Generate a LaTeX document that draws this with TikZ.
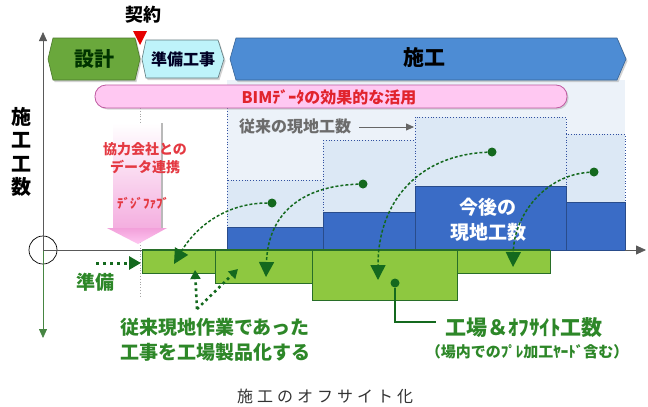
\documentclass[tikz,border=0pt]{standalone}
\usepackage{fontspec}
\setmainfont{Noto Sans CJK JP}
\usetikzlibrary{arrows.meta,shadows}
\definecolor{sekkei}{RGB}{106,168,60}
\definecolor{junbi}{RGB}{190,243,250}
\definecolor{sekou}{RGB}{77,140,212}
\definecolor{pinkfill}{RGB}{255,200,242}
\definecolor{pinkborder}{RGB}{190,90,160}
\definecolor{bimred}{RGB}{225,35,45}
\definecolor{palebg}{RGB}{236,242,249}
\definecolor{oldbox}{RGB}{220,232,245}
\definecolor{bordblue}{RGB}{50,80,160}
\definecolor{newblue}{RGB}{58,108,198}
\definecolor{barfill}{RGB}{142,200,64}
\definecolor{barline}{RGB}{40,110,40}
\definecolor{dgreen}{RGB}{20,105,30}
\definecolor{tgreen}{RGB}{45,135,40}
\definecolor{pinkarrow}{RGB}{242,160,218}
\newcommand\myfs[1]{\fontsize{#1}{#1}\selectfont}
\begin{document}
\begin{tikzpicture}[x=1pt,y=-1pt,
  phase/.style={line width=0.6pt, drop shadow={opacity=0.35,shadow xshift=1.5pt,shadow yshift=-2pt}},
  oldcol/.style={fill=oldbox, draw=bordblue, dotted, line width=0.8pt},
  newcol/.style={fill=newblue, draw=newblue!70!black, line width=0.5pt},
  gbar/.style={fill=barfill, draw=barline, line width=1pt},
  gdot/.style={circle, fill=dgreen, inner sep=0pt, minimum size=9pt},
  darr/.style={dgreen, dashed, dash pattern=on 3pt off 2pt, line width=1.5pt, -{Triangle[length=15pt,width=15pt]}},
  dotarr/.style={dgreen, line width=2.6pt, dash pattern=on 2.6pt off 3.4pt, -{Triangle[length=9pt,width=10pt]}},
  lbl/.style={inner sep=0pt, font=\bfseries}
]
\useasboundingbox (0,0) rectangle (648,407);
\fill[white] (0,0) rectangle (648,407);

% pale background of construction phase
\fill[palebg] (227,80) rectangle (625,250);
\draw[bordblue, dotted, line width=0.8pt] (227,108) -- (227,180);

% contract marker line
\draw[gray!70, dotted, line width=0.8pt] (140,108) -- (140,296);

% conventional (dotted) columns
\draw[oldcol] (227,180) rectangle (323,250);
\draw[oldcol] (323,140) rectangle (415,250);
\draw[oldcol] (415,117) rectangle (566,250);
\draw[oldcol] (566,134) rectangle (625,250);
% future columns
\draw[newcol] (227,227) rectangle (323,250);
\draw[newcol] (323,212) rectangle (415,250);
\draw[newcol] (415,186) rectangle (566,250);
\draw[newcol] (566,202) rectangle (625,250);

\node[lbl, text=white, align=center, font=\bfseries\myfs{19}] (kongo) at (488,220) {今後の\\[6pt]現地工数};

% conventional label
\node[lbl, text=gray!85!black, font=\bfseries\myfs{16}] (jurai) at (295,126) {従来の現地工数};
\coordinate (jt) at (414,127);
\draw[gray!80!black, line width=0.8pt, -{Triangle[length=8pt,width=7pt]}, ] (jurai.east) ++(8,1) -- (jt);

% green bars
\draw[gbar] (142,250) rectangle (215,273);
\draw[gbar] (215,250) rectangle (312,283);
\draw[gbar] (312,250) rectangle (457,300);
\draw[gbar] (457,250) rectangle (550,273);
\draw[barline, line width=1.2pt] (142,250) -- (550,250);

% axes
\node[circle, draw=black, line width=0.7pt, minimum size=28pt, inner sep=0pt] (origin) at (43,250) {};
\coordinate (ytop) at (43,32);
\coordinate (ybot) at (43,338);
\coordinate (xend) at (646,250);
\draw[gray!70!black, line width=0.8pt, -{Triangle[length=9pt,width=8pt]}] (43,250) -- (ytop);
\draw[tgreen!70!gray, line width=0.8pt, -{Triangle[length=9pt,width=8pt]}, ] (43,250) -- (ybot);
\draw[gray!70!black, line width=0.8pt] (43,250) -- (142,250);
\draw[gray!70!black, line width=0.8pt, -{Triangle[length=10pt,width=9pt]}] (625,250) -- (xend);

% phase bar
\filldraw[phase, fill=sekkei, draw=sekkei!70!black] (53,38) -- (135,38) -- (140,59) -- (135,80) -- (53,80) -- (48,59) -- cycle;
\node[lbl, text=black!80!green, font=\bfseries\myfs{20}] (sek) at (94,59) {設計};
\filldraw[phase, fill=junbi, draw=junbi!50!black] (146,40) -- (218,40) -- (224,59) -- (218,78) -- (146,78) -- (142,59) -- cycle;
\node[lbl, text=black!85!blue, font=\bfseries\myfs{16}] (jun) at (183,59) {準備工事};
\filldraw[phase, fill=sekou, draw=sekou!70!black] (236,38) -- (617,38) -- (626,59) -- (617,80) -- (236,80) -- (230,59) -- cycle;
\node[lbl, text=black, font=\bfseries\myfs{21}] (sko) at (424,58) {施工};

% contract
\node[lbl, font=\bfseries\myfs{18}] (kei) at (143,15) {契約};
\fill[red!90!black] (133,31) -- (147,31) -- (140,45) -- cycle;

% BIM bar
\node[draw=pinkborder, fill=pinkfill, line width=0.8pt, rounded corners=11pt, minimum width=472pt, minimum height=23pt,
  drop shadow={opacity=0.3,shadow xshift=1.5pt,shadow yshift=-1.5pt}] (bim) at (331,96.5) {};
\node[lbl, text=bimred, font=\bfseries\myfs{16}] (bimt) at (329,97) {BIMﾃﾞｰﾀの効果的な活用};

% vertical axis label
\node[lbl, font=\bfseries\myfs{20}, align=center] (yl) at (22,152) {施\\[3.5pt]工\\[3.5pt]工\\[3.5pt]数};

% pink data arrow
\shade[top color=white, bottom color=pinkarrow!85!white] (113,123) rectangle (162,228);
\draw[gray!55, line width=1.2pt] (162,123) -- (162,228);
\shade[top color=pinkarrow, bottom color=pinkfill] (107,228) -- (167,228) -- (138,244) -- cycle;
\node[lbl, text=bimred!90!white, font=\bfseries\myfs{14}, align=center] (kyo) at (145,158) {協力会社との\\[4pt]データ連携};
\node[lbl, text=bimred!90!white, font=\bfseries\myfs{13}] (dfab) at (143,203) {ﾃﾞｼﾞﾌｧﾌﾞ};

% preparation
\node[lbl, text=tgreen, font=\bfseries\myfs{19}] (jb) at (95,282) {準備};
\coordinate (jbs) at (96,263);
\coordinate (jbe) at (141,263);
\draw[dotarr, line width=3pt, dash pattern=on 3pt off 4pt, -{Triangle[length=12pt,width=13pt]}] (jbs) -- (jbe);

% curved transfer arrows
\node[gdot] (d1) at (272,203) {};
\node[gdot] (d2) at (363,184) {};
\node[gdot] (d3) at (492,152) {};
\node[gdot] (d4) at (594,172) {};
\coordinate (t1) at (174,264);
\coordinate (t2) at (266,277);
\coordinate (t3) at (378,280);
\coordinate (t4) at (513,267);
\draw[darr] (d1) .. controls (225,203) and (195,228) .. (t1);
\draw[darr] (d2) .. controls (300,186) and (268,215) .. (t2);
\draw[darr] (d3) .. controls (420,155) and (378,200) .. (t3);
\draw[darr] (d4) .. controls (545,175) and (514,215) .. (t4);

% factory items arrows
\coordinate (vb) at (197,309);
\coordinate (va) at (195,270);
\coordinate (vc) at (238,269);
\draw[dotarr] (vb) -- (va);
\draw[dotarr] (vb) -- (vc);
\node[lbl, text=tgreen, font=\bfseries\myfs{19}, align=center] (fac) at (215,340) {従来現地作業であった\\[6pt]工事を工場製品化する};

% offsite label
\node[gdot] (od) at (395,283) {};
\coordinate (oc) at (395,322);
\node[lbl, text=tgreen, font=\bfseries\myfs{21}, anchor=west] (off) at (445,328) {工場＆ｵﾌｻｲﾄ工数};
\node[lbl, text=tgreen, font=\bfseries\myfs{15}] (off2) at (527,352) {（場内でのﾌﾟﾚ加工ﾔｰﾄﾞ含む）};
\draw[dgreen, line width=2pt] (od) -- (oc) -- (436,322);

% caption
\node[inner sep=0pt, text=black!80, font=\myfs{16}\addfontfeature{LetterSpace=25}] (cap) at (325,396) {施工のオフサイト化};
\end{tikzpicture}
\end{document}
